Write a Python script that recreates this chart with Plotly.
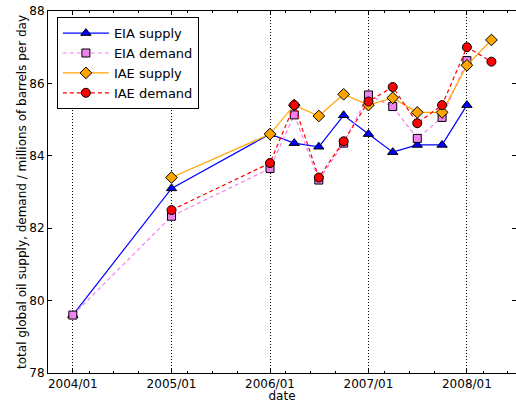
import plotly.graph_objects as go

# ---- data ----
eia_dates = ["2004-01-01", "2005-01-01", "2006-01-01", "2006-04-01", "2006-07-01",
             "2006-10-01", "2007-01-01", "2007-04-01", "2007-07-01", "2007-10-01",
             "2008-01-01"]
eia_supply = [79.6, 83.1, 84.6, 84.35, 84.25, 85.12, 84.6, 84.1, 84.3, 84.3, 85.4]
eia_demand = [79.6, 82.33, 83.65, 85.13, 83.33, 84.35, 85.68, 85.36, 84.48, 85.06, 86.63]

iae_dates = ["2005-01-01", "2006-01-01", "2006-04-01", "2006-07-01", "2006-10-01",
             "2007-01-01", "2007-04-01", "2007-07-01", "2007-10-01", "2008-01-01",
             "2008-04-01"]
iae_supply = [83.4, 84.6, 85.4, 85.1, 85.7, 85.4, 85.6, 85.2, 85.2, 86.5, 87.2]
iae_demand = [82.5, 83.8, 85.4, 83.4, 84.4, 85.5, 85.9, 84.9, 85.4, 87.0, 86.6]

major_ticks = ["2004-01-01", "2005-01-01", "2006-01-01", "2007-01-01", "2008-01-01"]
major_labels = ["2004/01", "2005/01", "2006/01", "2007/01", "2008/01"]
minor_ticks = [f"{y}-{m:02d}-01" for y in range(2004, 2009) for m in (3, 6, 9)]
y_ticks = [78, 80, 82, 84, 86, 88]

FONT = "DejaVu Sans"

fig = go.Figure()

def add(name, x, y, color, symbol, size, dash):
    fig.add_trace(go.Scatter(
        x=x, y=y, name=name, mode="lines+markers",
        line=dict(color=color, width=1.2, dash=dash),
        marker=dict(symbol=symbol, size=size, color=color,
                    line=dict(color="black", width=1)),
    ))

add("EIA supply", eia_dates, eia_supply, "#0000ff", "triangle-up", 9, "solid")
add("EIA demand", eia_dates, eia_demand, "#ee82ee", "square", 8, "4px,3px")
add("IAE supply", iae_dates, iae_supply, "#ffa500", "diamond", 9, "solid")
add("IAE demand", iae_dates, iae_demand, "#ff0000", "circle", 9, "4px,3px")

fig.update_layout(
    width=516, height=403,
    margin=dict(l=48, r=0, t=11, b=30, autoexpand=False),
    paper_bgcolor="white", plot_bgcolor="white",
    font=dict(family=FONT, size=12, color="black"),
    showlegend=True,
    legend=dict(x=0.019, y=0.983, xanchor="left", yanchor="top",
                bgcolor="white", bordercolor="black", borderwidth=1,
                font=dict(size=13, family=FONT), tracegroupgap=0,
                itemwidth=46),
)

fig.update_xaxes(
    type="date", range=["2003-10-01", "2008-07-01"], automargin=False,
    tickmode="array", tickvals=major_ticks, ticktext=major_labels,
    ticks="inside", ticklen=4, tickwidth=1, tickcolor="black",
    showline=True, linecolor="black", linewidth=1, mirror="ticks",
    showgrid=True, gridcolor="black", gridwidth=1, griddash="1px,2px",
    minor=dict(tickmode="array", tickvals=minor_ticks, ticks="inside",
               ticklen=2, tickcolor="black", showgrid=False),
    zeroline=False,
    title=dict(text="date", standoff=3, font=dict(size=12)),
    tickfont=dict(size=12),
)
fig.update_yaxes(
    range=[78, 88], tickmode="array", tickvals=y_ticks, automargin=False,
    ticks="inside", ticklen=4, tickwidth=1, tickcolor="black",
    showline=True, linecolor="black", linewidth=1, mirror="ticks",
    showgrid=False, zeroline=False,
    title=dict(text="total global oil supply, demand / millions of barrels per day",
               standoff=0, font=dict(size=12)),
    tickfont=dict(size=12),
)

fig.write_html("out.html", config={"displayModeBar": False},
               post_script="document.body.style.margin='0';document.body.style.overflow='hidden';")
